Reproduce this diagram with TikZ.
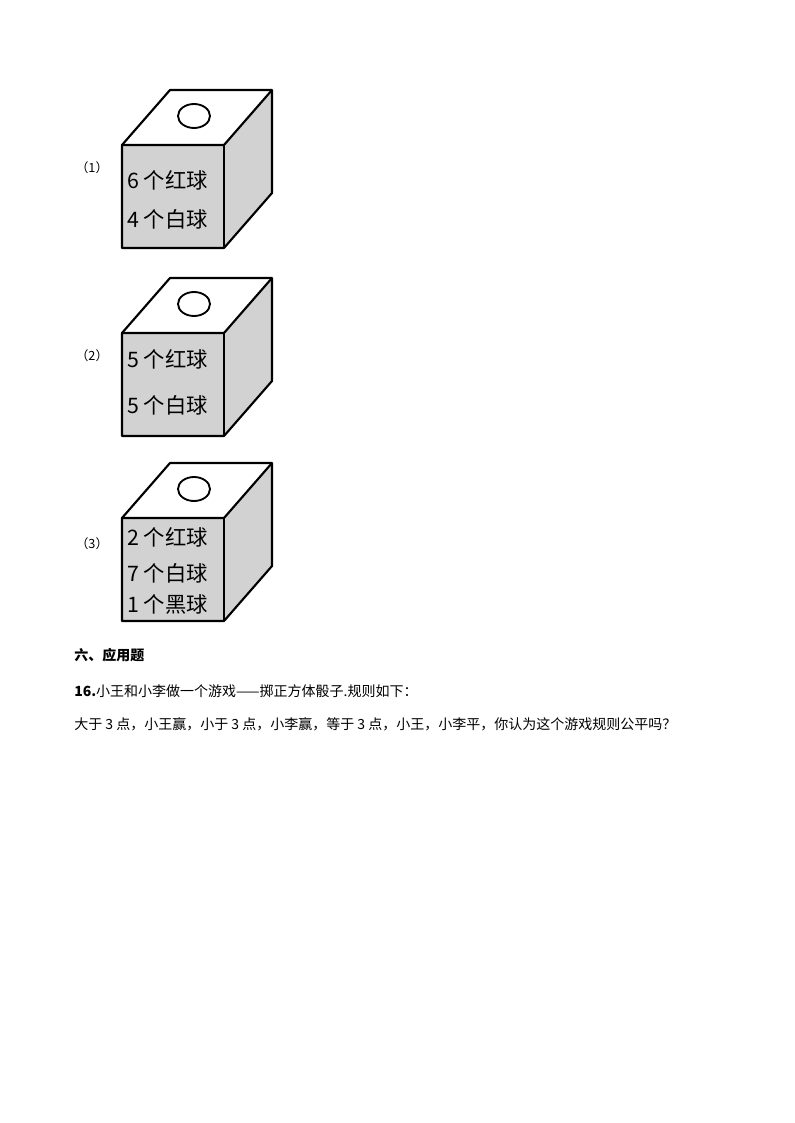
\documentclass[tikz,border=0pt]{standalone}
\usepackage{fontspec}
\setmainfont{Liberation Serif}
\newfontfamily\cjk{Noto Sans CJK SC}
\begin{document}
\begin{tikzpicture}[x=0.75pt,y=-0.75pt,
  edge/.style={draw=black,line width=1.6pt},
  cubetxt/.style={anchor=west,font=\cjk\fontsize{16}{16}\selectfont,inner sep=0},
  lbl/.style={font=\cjk\fontsize{9.5}{9.5}\selectfont},
  body/.style={anchor=west,font=\cjk\fontsize{10.5}{10.5}\selectfont,inner sep=0}]
\useasboundingbox (0,0) rectangle (794,1123);
\foreach \t/\n in {145/1,333/2,518/3}{
  \coordinate (f\n) at (122,\t);
  \fill[white] (122,\t) -- (170,\t-55) -- (272,\t-55) -- (224,\t) -- cycle;
  \fill[gray!35] (224,\t) -- (272,\t-55) -- (272,\t+48) -- (224,\t+103) -- cycle;
  \fill[gray!35] (122,\t) rectangle (224,\t+103);
  \draw[edge,line join=round] (122,\t) -- (170,\t-55) -- (272,\t-55) -- (272,\t+48) -- (224,\t+103) -- (122,\t+103) -- cycle;
  \draw[edge] (122,\t) -- (224,\t) -- (272,\t-55);
  \draw[edge] (224,\t) -- (224,\t+103);
  \draw[line width=1.4pt] (194,\t-29) ellipse [x radius=16, y radius=12];
}
\node[lbl] (l1) at (92,168) {（1）};
\node[lbl] (l2) at (92,356) {（2）};
\node[lbl] (l3) at (92,544) {（3）};
\node[cubetxt] (a1) at (127,180) {6 个红球};
\node[cubetxt] (a2) at (127,219) {4 个白球};
\node[cubetxt] (b1) at (127,359) {5 个红球};
\node[cubetxt] (b2) at (127,405) {5 个白球};
\node[cubetxt] (c1) at (127,537) {2 个红球};
\node[cubetxt] (c2) at (127,573) {7 个白球};
\node[cubetxt] (c3) at (127,604) {1 个黑球};
\node[body,font=\cjk\bfseries\fontsize{10.5}{10.5}\selectfont] (h) at (74,655) {六、应用题};
\node[body] (q1) at (74,691) {\textbf{16.}小王和小李做一个游戏——掷正方体骰子.规则如下：};
\node[body] (q2) at (74,724) {大于 3 点，小王赢，小于 3 点，小李赢，等于 3 点，小王，小李平，你认为这个游戏规则公平吗？};
\end{tikzpicture}
\end{document}
